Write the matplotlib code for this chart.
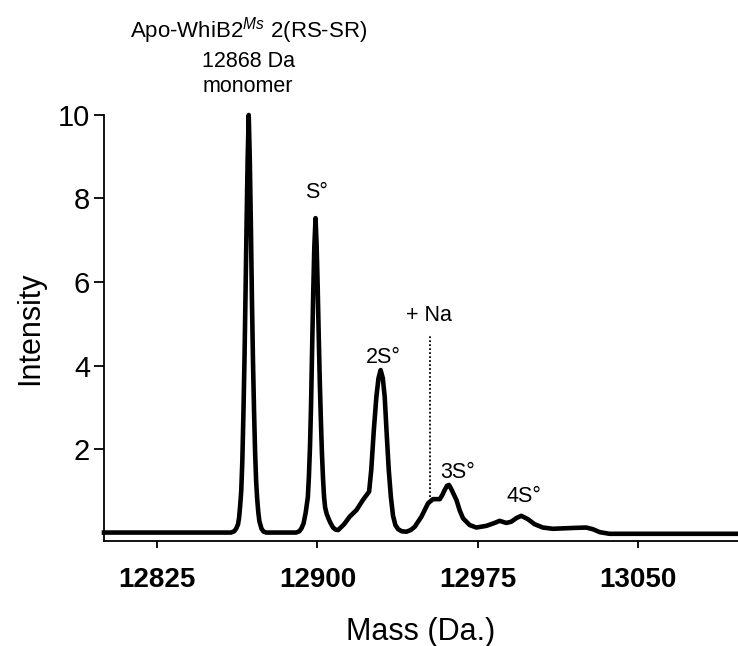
import matplotlib.pyplot as plt

plt.rcParams["font.family"] = "Liberation Sans"
plt.rcParams["mathtext.fontset"] = "custom"
plt.rcParams["mathtext.rm"] = "Liberation Sans"
plt.rcParams["mathtext.it"] = "Liberation Sans:italic"

# deconvoluted spectrum trace (mass in Da, intensity)
mass = [
    12800, 12855, 12859.5, 12861,
    12862.0, 12862.8, 12863.3, 12863.8, 12864.3, 12864.8, 12865.3, 12865.8,
    12866.3, 12866.8, 12867.3, 12867.8, 12868.3, 12868.8, 12869.3, 12869.8,
    12870.3, 12870.8, 12871.3, 12871.8, 12872.3, 12872.8, 12873.8, 12874.8,
    12876, 12890,
    12891.5, 12892.5, 12893.5, 12894.5, 12895.5, 12896.0, 12896.5, 12897.0,
    12897.5, 12898.0, 12898.5, 12899.1, 12899.6, 12900.1, 12900.6, 12901.1,
    12901.6, 12902.1, 12902.6, 12903.1, 12903.6, 12904.3, 12905.2, 12906.2,
    12907.3, 12908.5, 12909.7, 12912.5, 12915.1, 12918.3, 12921.3, 12924.2,
    12925.2, 12926.4, 12927.6, 12928.6, 12929.6, 12930.6, 12931.5, 12932.5,
    12933.4, 12934.4, 12935.4, 12936.5, 12937.8, 12939.5, 12941.7, 12943.7,
    12945.6, 12948.7, 12951.8, 12954.1, 12957.3, 12958.5, 12959.6, 12960.7,
    12961.6, 12962.6, 12963.8, 12965.1, 12966.7, 12968.2, 12971.3, 12974.4,
    12979.1, 12983.0, 12985.3, 12988.5, 12990.8, 12993.3, 12995.5, 12998.6,
    13001.7, 13005.6, 13010.3, 13019.7, 13025.9, 13029.0, 13032.2, 13036.8,
    13097,
]
intensity = [
    0.0, 0.0, 0.0, 0.03,
    0.1, 0.2, 0.36, 0.65, 1.0, 1.7, 2.8, 4.1,
    5.7, 7.4, 8.95, 10.0, 8.95, 7.4, 5.6, 4.1,
    2.9, 1.9, 1.2, 0.78, 0.48, 0.27, 0.09, 0.02,
    0.0, 0.0,
    0.03, 0.1, 0.22, 0.48, 0.85, 1.35, 2.05, 3.05,
    4.4, 5.7, 6.8, 7.53, 6.9, 5.9, 4.7, 3.6,
    2.7, 1.9, 1.3, 0.85, 0.6, 0.45, 0.33, 0.22,
    0.12, 0.07, 0.06, 0.2, 0.38, 0.54, 0.78, 0.98,
    1.5, 2.45, 3.25, 3.7, 3.89, 3.7, 3.25, 2.3,
    1.5, 0.85, 0.4, 0.18, 0.08, 0.03, 0.02, 0.06,
    0.14, 0.38, 0.70, 0.80, 0.80, 0.9, 1.02, 1.12,
    1.14, 1.05, 0.92, 0.78, 0.52, 0.34, 0.18, 0.12,
    0.16, 0.23, 0.28, 0.23, 0.26, 0.35, 0.40, 0.32,
    0.20, 0.12, 0.09, 0.11, 0.12, 0.08, 0.01, -0.03,
    -0.03,
]

x_ticks = [12825, 12900, 12975, 13050]
y_ticks = [2, 4, 6, 8, 10]

# peak labels: (text, mass, intensity at baseline)
peak_labels = [
    ("S°", 12899.4, 8.0),
    ("2S°", 12931.0, 4.06),
    ("+ Na", 12952.3, 5.07),
    ("3S°", 12965.7, 1.31),
    ("4S°", 12996.6, 0.73),
]
na_mass = 12952.6
na_range = (0.85, 4.73)

title_lines = [
    (r"Apo-WhiB2$^{Ms}$ 2(RS-SR)", 11.86, 16),
    ("12868 Da", 11.15, 15.5),
    ("monomer", 10.56, 15.5),
]
title_mass = 12867.6

fig = plt.figure(figsize=(7.38, 6.46), dpi=100)
ax = fig.add_axes([0.1409, 0.1627, 0.8591, 0.6593])

ax.plot(mass, intensity, color="black", linewidth=3.3,
        solid_joinstyle="round", clip_on=False)

ax.plot([na_mass, na_mass], na_range, color="black", linestyle=(0, (1, 1.2)),
        linewidth=1.3)

for txt, m, y in peak_labels:
    ax.text(m, y, txt, ha="center", va="baseline", fontsize=15.5)

for txt, y, fs in title_lines:
    ax.text(title_mass, y, txt, ha="center", va="baseline", fontsize=fs,
            clip_on=False)

ax.set_xlim(12800, 13097)
ax.set_ylim(-0.2, 10)
ax.set_xticks(x_ticks)
ax.set_yticks(y_ticks)
ax.set_xticklabels([str(t) for t in x_ticks], fontweight="bold", fontsize=20)
ax.set_yticklabels([str(t) for t in y_ticks], fontsize=21)

ax.spines["top"].set_visible(False)
ax.spines["right"].set_visible(False)
ax.spines["left"].set_linewidth(1.3)
ax.spines["bottom"].set_linewidth(1.3)
ax.tick_params(axis="y", length=7, width=1.3, pad=3)
ax.tick_params(axis="x", length=5, width=1.3, pad=14)

ax.set_xlabel("Mass (Da.)", fontsize=22, labelpad=17)
ax.set_ylabel("Intensity", fontsize=22, labelpad=9)

fig.savefig("out.png", dpi=100, facecolor="white")
